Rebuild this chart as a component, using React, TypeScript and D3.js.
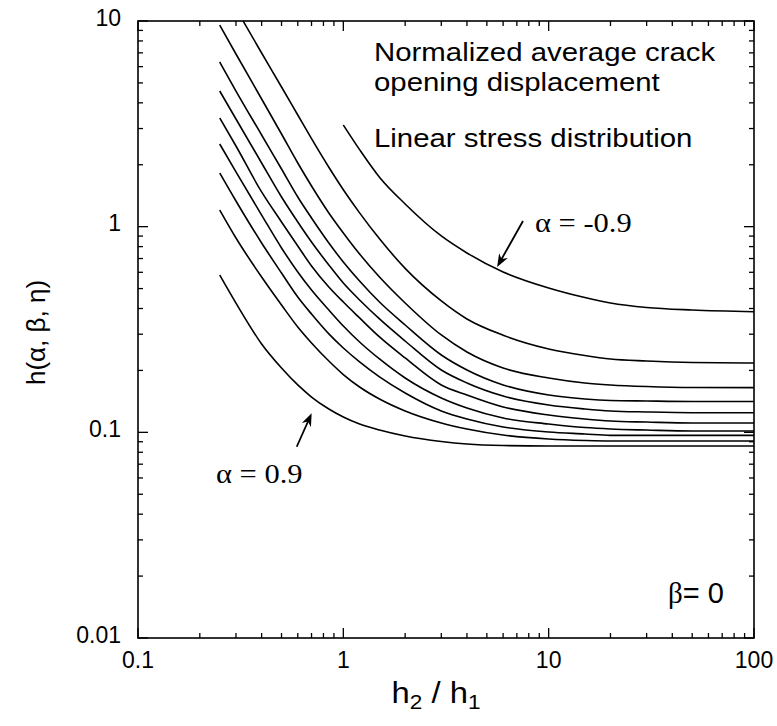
import React from 'react';
import * as d3 from 'd3';

const W = 777;
const H = 726;

const X_TICKS = [0.1, 1, 10, 100];
const X_TICK_LABELS = ['0.1', '1', '10', '100'];
const Y_TICKS = [0.01, 0.1, 1, 10];
const Y_TICK_LABELS = ['0.01', '0.1', '1', '10'];

// h2/h1 values shared by the curves that start at 0.25
const X_MAIN = [0.25, 0.3, 0.4, 0.5, 0.6, 0.7, 0.85, 1, 1.2, 1.5, 2, 3, 4, 6, 10, 15, 20, 30, 50, 100];

const H_A_P09 = [0.582, 0.425, 0.269, 0.2055, 0.17, 0.1485, 0.1299, 0.1188, 0.1098, 0.1026, 0.096, 0.0903, 0.0878, 0.0863, 0.0858, 0.0858, 0.0858, 0.0858, 0.0858, 0.0858];
const H_A_P07 = [1.205, 0.881, 0.569, 0.416, 0.3253, 0.272, 0.2222, 0.191, 0.1661, 0.1452, 0.127, 0.111, 0.1038, 0.097, 0.0928, 0.0913, 0.0908, 0.0908, 0.0908, 0.0908];
const H_A_P05 = [1.824, 1.333, 0.833, 0.595, 0.455, 0.376, 0.301, 0.257, 0.22, 0.186, 0.1553, 0.127, 0.1161, 0.1062, 0.1004, 0.0982, 0.0967, 0.0967, 0.0967, 0.0967];
const H_A_P03 = [2.523, 1.845, 1.139, 0.788, 0.602, 0.492, 0.3934, 0.3289, 0.2749, 0.2273, 0.1837, 0.1469, 0.1313, 0.1174, 0.1098, 0.1055, 0.1038, 0.1026, 0.1015, 0.1015];
const H_A_P01 = [3.376, 2.467, 1.475, 1.054, 0.805, 0.644, 0.509, 0.43, 0.36, 0.291, 0.23, 0.17, 0.1518, 0.1328, 0.1214, 0.1161, 0.1135, 0.1122, 0.111, 0.111];
const H_A_M01 = [4.566, 3.338, 2.04, 1.394, 1.054, 0.842, 0.651, 0.532, 0.44, 0.356, 0.278, 0.201, 0.1738, 0.1502, 0.1358, 0.1299, 0.127, 0.1256, 0.1246, 0.1246];
const H_A_M03 = [6.32, 4.566, 2.791, 1.907, 1.394, 1.102, 0.833, 0.673, 0.544, 0.43, 0.3325, 0.2377, 0.201, 0.17, 0.1518, 0.1452, 0.1428, 0.142, 0.1413, 0.1413];
const H_A_M05 = [9.56, 6.912, 4.176, 2.822, 2.04, 1.577, 1.166, 0.932, 0.736, 0.569, 0.4255, 0.2974, 0.2458, 0.2055, 0.1837, 0.1738, 0.17, 0.167, 0.1652, 0.165];

const X_A_M07 = [0.325, 0.4, 0.5, 0.6, 0.7, 0.85, 1, 1.2, 1.5, 2, 3, 4, 6, 10, 15, 20, 30, 50, 100];
const H_A_M07 = [10, 6.99, 4.776, 3.491, 2.679, 1.945, 1.512, 1.167, 0.873, 0.627, 0.4355, 0.3559, 0.2966, 0.2544, 0.2363, 0.2272, 0.2222, 0.2185, 0.2173];

const X_A_M09 = [1, 1.2, 1.5, 2, 3, 4, 6, 10, 15, 20, 30, 50, 100];
const H_A_M09 = [3.121, 2.37, 1.74, 1.289, 0.901, 0.745, 0.602, 0.503, 0.452, 0.4255, 0.4046, 0.3934, 0.386];

const SERIES: { xs: number[]; hs: number[] }[] = [
  { xs: X_MAIN, hs: H_A_P09 },
  { xs: X_MAIN, hs: H_A_P07 },
  { xs: X_MAIN, hs: H_A_P05 },
  { xs: X_MAIN, hs: H_A_P03 },
  { xs: X_MAIN, hs: H_A_P01 },
  { xs: X_MAIN, hs: H_A_M01 },
  { xs: X_MAIN, hs: H_A_M03 },
  { xs: X_MAIN, hs: H_A_M05 },
  { xs: X_A_M07, hs: H_A_M07 },
  { xs: X_A_M09, hs: H_A_M09 },
];

const SANS = '"Liberation Sans", Arial, Helvetica, sans-serif';
const SERIF = '"Liberation Serif", "Times New Roman", serif';
const STRETCH = 1.13;

function Arrow({ x1, y1, x2, y2 }: { x1: number; y1: number; x2: number; y2: number }) {
  const dx = x2 - x1;
  const dy = y2 - y1;
  const len = Math.sqrt(dx * dx + dy * dy);
  const ux = dx / len;
  const uy = dy / len;
  const hl = 13;
  const hw = 5;
  const bx = x2 - ux * hl;
  const by = y2 - uy * hl;
  const pts = [
    [x2, y2],
    [bx - uy * hw, by + ux * hw],
    [x2 - ux * (hl - 4), y2 - uy * (hl - 4)],
    [bx + uy * hw, by - ux * hw],
  ];
  return (
    <g>
      <line x1={x1} y1={y1} x2={x2 - ux * 6} y2={y2 - uy * 6} stroke="#000" strokeWidth={1.8} />
      <polygon points={pts.map((p) => p.join(',')).join(' ')} fill="#000" />
    </g>
  );
}

function WideText({
  x,
  y,
  size,
  family,
  children,
}: {
  x: number;
  y: number;
  size: number;
  family: string;
  children: React.ReactNode;
}) {
  return (
    <text
      transform={`translate(${x},${y}) scale(${STRETCH},1)`}
      fontFamily={family}
      fontSize={size}
      fill="#000"
    >
      {children}
    </text>
  );
}

export default function App() {
  const x = d3.scaleLog().domain([0.1, 100]).range([138, 754]);
  const y = d3.scaleLog().domain([0.01, 10]).range([638, 21]);
  const [x0, x1] = x.range();
  const [y0, y1] = y.range();

  const xMinor: number[] = [];
  [0.1, 1, 10].forEach((d) => {
    for (let k = 2; k <= 9; k++) xMinor.push(d * k);
  });
  const yMinor: number[] = [];
  [0.01, 0.1, 1].forEach((d) => {
    for (let k = 2; k <= 9; k++) yMinor.push(d * k);
  });

  const line = d3
    .line<[number, number]>()
    .x((d) => x(d[0]))
    .y((d) => y(d[1]))
    .curve(d3.curveMonotoneX);

  const MAJ = 10;
  const MIN = 5;

  return (
    <svg
      width={W}
      height={H}
      viewBox={`0 0 ${W} ${H}`}
      style={{ position: 'absolute', left: 0, top: 0, background: '#fff' }}
    >
      <rect x={0} y={0} width={W} height={H} fill="#fff" />
      {/* curves */}
      <g fill="none" stroke="#000" strokeWidth={1.6}>
        {SERIES.map((s, i) => (
          <path key={i} d={line(s.xs.map((v, j) => [v, s.hs[j]] as [number, number])) || ''} />
        ))}
      </g>

      {/* frame */}
      <rect x={x0} y={y1} width={x1 - x0} height={y0 - y1} fill="none" stroke="#000" strokeWidth={1.6} />

      {/* ticks */}
      <g stroke="#000" strokeWidth={1.3}>
        {X_TICKS.map((t, i) => (
          <g key={'xt' + i}>
            <line x1={x(t)} x2={x(t)} y1={y0} y2={y0 - MAJ} />
            <line x1={x(t)} x2={x(t)} y1={y1} y2={y1 + MAJ} />
          </g>
        ))}
        {xMinor.map((t, i) => (
          <g key={'xm' + i}>
            <line x1={x(t)} x2={x(t)} y1={y0} y2={y0 - MIN} />
            <line x1={x(t)} x2={x(t)} y1={y1} y2={y1 + MIN} />
          </g>
        ))}
        {Y_TICKS.map((t, i) => (
          <g key={'yt' + i}>
            <line x1={x0} x2={x0 + MAJ} y1={y(t)} y2={y(t)} />
            <line x1={x1} x2={x1 - MAJ} y1={y(t)} y2={y(t)} />
          </g>
        ))}
        {yMinor.map((t, i) => (
          <g key={'ym' + i}>
            <line x1={x0} x2={x0 + MIN} y1={y(t)} y2={y(t)} />
            <line x1={x1} x2={x1 - MIN} y1={y(t)} y2={y(t)} />
          </g>
        ))}
      </g>

      {/* tick labels */}
      <g fontFamily={SANS} fontSize={23} fill="#000">
        {X_TICKS.map((t, i) => (
          <text key={'xl' + i} x={x(t)} y={668} textAnchor="middle">
            {X_TICK_LABELS[i]}
          </text>
        ))}
        {Y_TICKS.map((t, i) => (
          <text key={'yl' + i} x={121} y={y(t) + 4.5} textAnchor="end">
            {Y_TICK_LABELS[i]}
          </text>
        ))}
      </g>

      {/* axis titles */}
      <text
        fontFamily={SANS}
        fontSize={26}
        textAnchor="middle"
        transform={`translate(45, ${(y0 + y1) / 2 + 3}) rotate(-90)`}
      >
        h(α, β, η)
      </text>
      <text
        fontFamily={SANS}
        fontSize={29}
        textAnchor="middle"
        transform={`translate(436, 703) scale(${STRETCH},1)`}
      >
        h<tspan fontSize={20} dy={6}>2</tspan>
        <tspan dy={-6}> / h</tspan>
        <tspan fontSize={20} dy={6}>1</tspan>
      </text>

      {/* text annotations */}
      <WideText x={374} y={61} size={26} family={SANS}>
        Normalized average crack
      </WideText>
      <WideText x={374} y={91} size={26} family={SANS}>
        opening displacement
      </WideText>
      <WideText x={374} y={146.5} size={26} family={SANS}>
        Linear stress distribution
      </WideText>

      <text x={668} y={603} fontSize={29} fill="#000">
        <tspan fontFamily={SERIF}>β</tspan>
        <tspan fontFamily={SANS}>= 0</tspan>
      </text>

      <WideText x={535} y={232} size={27} family={SERIF}>
        α = -0.9
      </WideText>
      <WideText x={216} y={483} size={27} family={SERIF}>
        α = 0.9
      </WideText>

      <Arrow x1={x(7.5)} y1={y(1.066)} x2={x(5.61)} y2={y(0.637)} />
      <Arrow x1={x(0.593)} y1={y(0.0851)} x2={x(0.701)} y2={y(0.1238)} />
    </svg>
  );
}
